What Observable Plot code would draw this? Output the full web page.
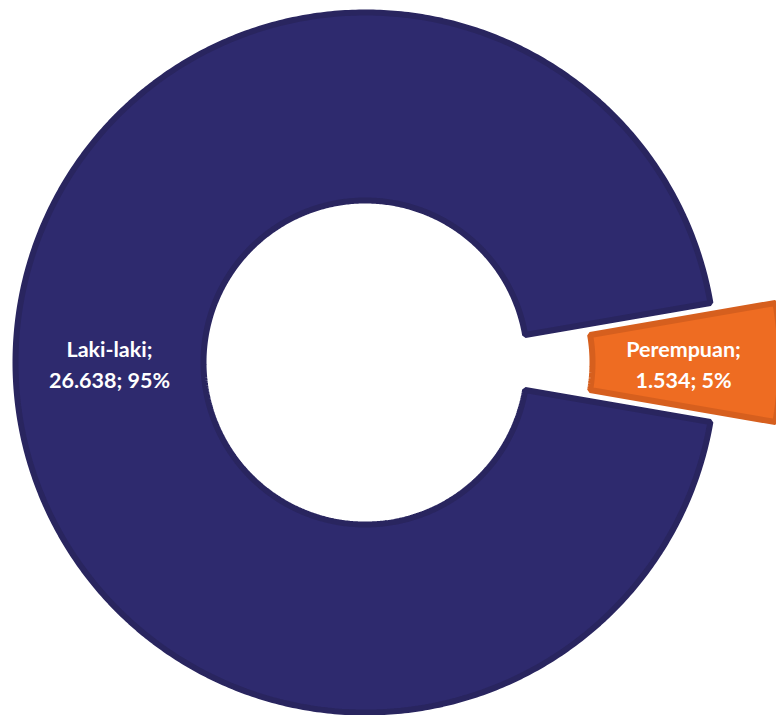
<!DOCTYPE html>
<html>
<head>
<meta charset="utf-8">
<script src="https://cdn.jsdelivr.net/npm/d3@7"></script>
<script src="https://cdn.jsdelivr.net/npm/@observablehq/plot@0.6"></script>
<style>
  html, body { margin: 0; padding: 0; background: #fff; }
  #chart svg { display: block; }
</style>
</head>
<body>
<div id="chart"></div>
<script>
// ---- data ----
const categories = ["Laki-laki", "Perempuan"];
const values = [26638, 1534];
const percents = [95, 5];

// ---- styling ----
const fills = ["#2e2a6e", "#ee6c22"];
const strokes = ["#29255f", "#d65f1e"];
const explode = [0, 65];
const outerR = 350, innerR = 162; // geometry (stroke adds ~3px each side)

const W = 776, H = 715;
const cx = 365, cy = 362;

const idFmt = d3.formatLocale({decimal: ",", thousands: ".", grouping: [3], currency: ["Rp", ""]}).format(",");

const total = d3.sum(values);
const half = Math.PI * values[1] / total;
const start = Math.PI / 2 + half;
const arcs = d3.pie().sort(null).startAngle(start).endAngle(start + 2 * Math.PI)(values);

const pts = [];
const labels = [];
arcs.forEach((a, i) => {
  const mid = (a.startAngle + a.endAngle) / 2;
  const ox = Math.sin(mid) * explode[i], oy = Math.cos(mid) * explode[i];
  const n = Math.max(8, Math.ceil((a.endAngle - a.startAngle) / 0.01));
  for (let k = 0; k <= n; k++) {
    const t = a.startAngle + (a.endAngle - a.startAngle) * k / n;
    pts.push({cat: categories[i], x: ox + Math.sin(t) * outerR, y: oy + Math.cos(t) * outerR});
  }
  for (let k = n; k >= 0; k--) {
    const t = a.startAngle + (a.endAngle - a.startAngle) * k / n;
    pts.push({cat: categories[i], x: ox + Math.sin(t) * innerR, y: oy + Math.cos(t) * innerR});
  }
  const rm = (outerR + innerR) / 2;
  labels.push({
    cat: categories[i],
    x: ox + Math.sin(mid) * rm - (i === 1 ? 3 : 0),
    y: oy + Math.cos(mid) * rm,
    text: `${categories[i]};\n${idFmt(values[i])}; ${percents[i]}%`
  });
});

const chart = Plot.plot({
  width: W,
  height: H,
  margin: 0,
  x: {domain: [-cx, W - cx], range: [0, W], axis: null},
  y: {domain: [-(H - cy), cy], range: [H, 0], axis: null},
  marks: [
    ...categories.map((c, i) => Plot.line(pts.filter(d => d.cat === c), {
      x: "x", y: "y", curve: "linear-closed",
      fill: fills[i], stroke: strokes[i], strokeWidth: 6, strokeLinejoin: "miter"
    })),
    Plot.text(labels, {
      x: "x", y: "y", text: "text",
      fill: "white", fontFamily: "Lato", fontWeight: "bold", fontSize: 21.5,
      lineHeight: 1.42, textAnchor: "middle"
    })
  ]
});
document.getElementById("chart").appendChild(chart);
</script>
</body>
</html>
